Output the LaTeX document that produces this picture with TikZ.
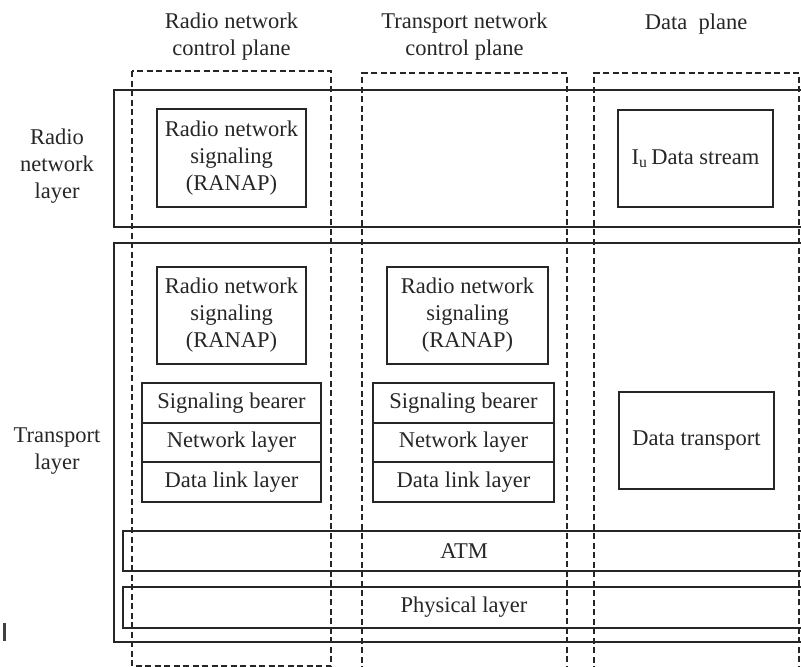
\documentclass[tikz,border=0pt]{standalone}
\usepackage{fontspec}
\setmainfont{Liberation Serif}
\begin{document}
\begin{tikzpicture}[x=1pt,y=-1pt,
  every node/.style={font=\fontsize{22.5}{27}\selectfont, align=center, inner sep=0pt},
  solidbox/.style={draw=black!85, line width=1.3pt},
  dashbox/.style={draw=black!85, line width=1.4pt, dash pattern=on 6pt off 3.5pt},
  cellbox/.style={draw=black!85, line width=1.3pt, minimum width=#1},
  lbl/.style={text=black!85}]
\clip (0,0) rectangle (801,667);
% column headers
\node[lbl] (h1) at (231.5,37) {Radio network\\control plane};
\node[lbl] (h2) at (464.5,37) {Transport network\\control plane};
\node[lbl] (h3) at (696,24) {Data\ \ plane};
% row labels
\node[lbl] (r1) at (57,166) {Radio\\network\\layer};
\node[lbl] (r2) at (57,451) {Transport\\layer};
% layer boxes (open on the right)
\draw[solidbox] (806,90) -- (114,90) -- (114,227) -- (806,227);
\draw[solidbox] (806,243) -- (114,243) -- (114,642) -- (806,642);
\draw[solidbox] (806,531) -- (123,531) -- (123,571) -- (806,571);
\draw[solidbox] (806,587) -- (123,587) -- (123,628) -- (806,628);
% plane columns
\draw[dashbox] (132,71) rectangle (331,666);
\draw[dashbox] (362,672) -- (362,73) -- (567,73) -- (567,672);
\draw[dashbox] (594,672) -- (594,73) -- (799,73) -- (799,672);
% radio network layer boxes
\node[cellbox=149pt, minimum height=98pt, lbl] (rnsig) at (231.5,158) {Radio network\\signaling\\(RANAP)};
\node[cellbox=155pt, minimum height=97pt, lbl] (iuds) at (695.5,158.5) {I\textsubscript{u}\,Data stream};
% transport layer boxes
\node[cellbox=149pt, minimum height=97pt, lbl] (tsig1) at (231.5,315.5) {Radio network\\signaling\\(RANAP)};
\node[cellbox=161pt, minimum height=97pt, lbl] (tsig2) at (467.5,315.5) {Radio network\\signaling\\(RANAP)};
\node[cellbox=179pt, minimum height=40pt, lbl] (sb1) at (231.5,403) {Signaling bearer};
\node[cellbox=179pt, minimum height=39pt, lbl] (nl1) at (231.5,442.5) {Network layer};
\node[cellbox=179pt, minimum height=40pt, lbl] (dl1) at (231.5,482) {Data link layer};
\node[cellbox=181pt, minimum height=40pt, lbl] (sb2) at (463.5,403) {Signaling bearer};
\node[cellbox=181pt, minimum height=39pt, lbl] (nl2) at (463.5,442.5) {Network layer};
\node[cellbox=181pt, minimum height=40pt, lbl] (dl2) at (463.5,482) {Data link layer};
\node[cellbox=155pt, minimum height=97pt, lbl] (dt) at (696.5,440.5) {Data transport};
% ATM / physical labels
\node[lbl] (atm) at (464,551) {ATM};
\node[lbl] (phy) at (464,607.5) {Physical layer};
% stray mark
\draw[black!75, line width=2.5pt] (4.7,623) -- (4.7,641);
\end{tikzpicture}
\end{document}
